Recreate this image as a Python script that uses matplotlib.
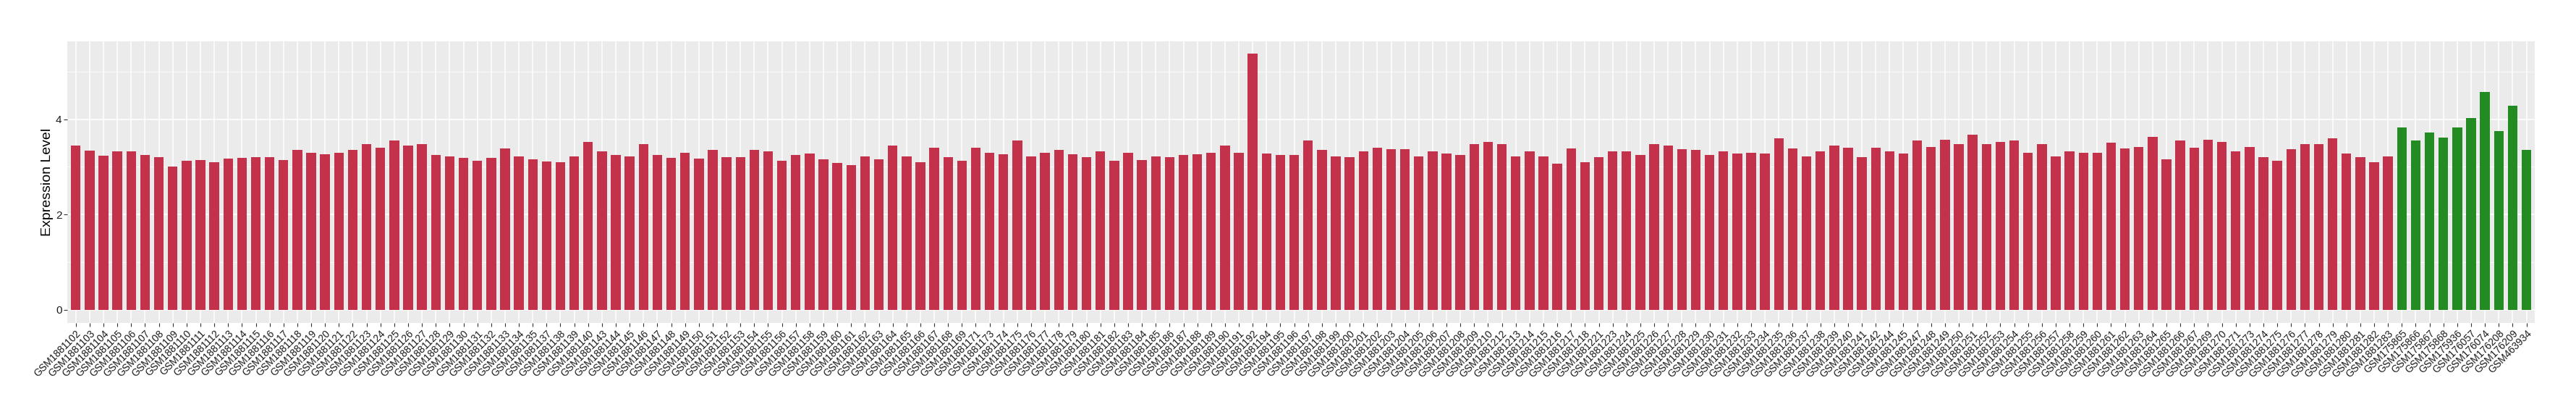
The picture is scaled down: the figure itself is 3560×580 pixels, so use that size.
import numpy as np
import matplotlib.pyplot as plt

plt.rcParams['font.family'] = ['Liberation Sans', 'DejaVu Sans']

# sample ids (suffix after GSM1881) for the red group
red_nums = [102, 103, 104, 105, 106, 107, 108, 109, 110, 111, 112, 113, 114, 115, 116, 117,
            118, 119, 120, 121, 122, 123, 124, 125, 126, 127, 128, 129, 130, 131, 132, 133,
            134, 135, 137, 138, 139, 140, 143, 144, 145, 146, 147, 148, 149, 150, 151, 152,
            153, 154, 155, 156, 157, 158, 159, 160, 161, 162, 163, 164, 165, 166, 167, 168,
            169, 171, 173, 174, 175, 176, 177, 178, 179, 180, 181, 182, 183, 184, 185, 186,
            187, 188, 189, 190, 191, 192, 194, 195, 196, 197, 198, 199, 200, 201, 202, 203,
            204, 205, 206, 207, 208, 209, 210, 212, 213, 214, 215, 216, 217, 218, 221, 223,
            224, 225, 226, 227, 228, 229, 230, 231, 232, 233, 234, 235, 236, 237, 238, 239,
            240, 241, 242, 244, 245, 247, 248, 249, 250, 251, 252, 253, 254, 255, 256, 257,
            258, 259, 260, 261, 262, 263, 264, 265, 266, 267, 269, 270, 271, 273, 274, 275,
            276, 277, 278, 279, 280, 281, 282, 283]
red_labels = ['GSM1881' + str(n) for n in red_nums]

red_values = [3.44, 3.34, 3.24, 3.33, 3.33, 3.25, 3.21, 3.00, 3.12, 3.14, 3.10, 3.17, 3.19, 3.21, 3.21, 3.14,
              3.35, 3.30, 3.27, 3.30, 3.36, 3.47, 3.40, 3.55, 3.45, 3.48, 3.25, 3.22, 3.19, 3.12, 3.19, 3.38,
              3.22, 3.16, 3.11, 3.10, 3.22, 3.52, 3.32, 3.25, 3.22, 3.48, 3.25, 3.19, 3.30, 3.18, 3.35, 3.20,
              3.20, 3.35, 3.32, 3.13, 3.25, 3.28, 3.15, 3.08, 3.03, 3.22, 3.15, 3.45, 3.22, 3.10, 3.40, 3.20,
              3.12, 3.40, 3.30, 3.27, 3.55, 3.22, 3.30, 3.35, 3.27, 3.20, 3.32, 3.13, 3.30, 3.14, 3.22, 3.21,
              3.25, 3.27, 3.30, 3.45, 3.30, 5.37, 3.28, 3.25, 3.25, 3.55, 3.35, 3.22, 3.20, 3.32, 3.40, 3.37,
              3.37, 3.22, 3.32, 3.28, 3.25, 3.48, 3.52, 3.47, 3.22, 3.32, 3.22, 3.07, 3.38, 3.10, 3.20, 3.32,
              3.33, 3.25, 3.47, 3.45, 3.37, 3.35, 3.25, 3.33, 3.28, 3.30, 3.28, 3.60, 3.38, 3.22, 3.32, 3.45,
              3.40, 3.20, 3.40, 3.33, 3.28, 3.55, 3.42, 3.57, 3.48, 3.67, 3.48, 3.52, 3.55, 3.30, 3.47, 3.22,
              3.33, 3.30, 3.30, 3.50, 3.38, 3.42, 3.63, 3.15, 3.55, 3.40, 3.57, 3.52, 3.32, 3.42, 3.20, 3.13,
              3.37, 3.47, 3.48, 3.60, 3.28, 3.20, 3.10, 3.22]

green_labels = ['GSM175865', 'GSM175866', 'GSM175867', 'GSM175868', 'GSM175936',
                'GSM176057', 'GSM176074', 'GSM176208', 'GSM176209', 'GSM463934']
green_values = [3.82, 3.55, 3.72, 3.62, 3.82, 4.02, 4.57, 3.75, 4.28, 3.35]

labels = red_labels + green_labels
values = red_values + green_values
colors = ['#C3314A'] * len(red_values) + ['#228B22'] * len(green_values)
x = np.arange(len(labels))

fig = plt.figure(figsize=(35.6, 5.8), dpi=100)
ax = fig.add_axes([93.3 / 3560, 1 - 445.7 / 580, (3503 - 93.3) / 3560, (445.7 - 56.5) / 580])
ax.set_facecolor('#EBEBEB')

ax.bar(x, values, width=0.7, color=colors, zorder=3)

ax.set_xlim(-0.6, len(labels) - 1 + 0.6)
ax.set_ylim(-0.27, 5.64)
ax.set_xticks(x)
ax.set_xticklabels(labels, rotation=45, ha='right', va='top', rotation_mode='anchor',
                   fontsize=10, color='#1A1A1A')
ax.set_yticks([0, 2, 4])
ax.set_yticks([1, 3, 5], minor=True)
ax.tick_params(axis='y', labelsize=11, labelcolor='#1A1A1A')
ax.tick_params(which='major', length=3.6, width=0.8, color='#333333', pad=2)
ax.tick_params(which='minor', length=0)

# ggplot-like white grid
ax.grid(which='major', color='white', linewidth=1.1, zorder=0)
ax.grid(which='minor', axis='y', color='white', linewidth=0.55, zorder=0)
ax.set_axisbelow(True)
for s in ax.spines.values():
    s.set_visible(False)

ax.set_ylabel('Expression Level', fontsize=14, labelpad=2)

fig.savefig('out.png', dpi=100)
